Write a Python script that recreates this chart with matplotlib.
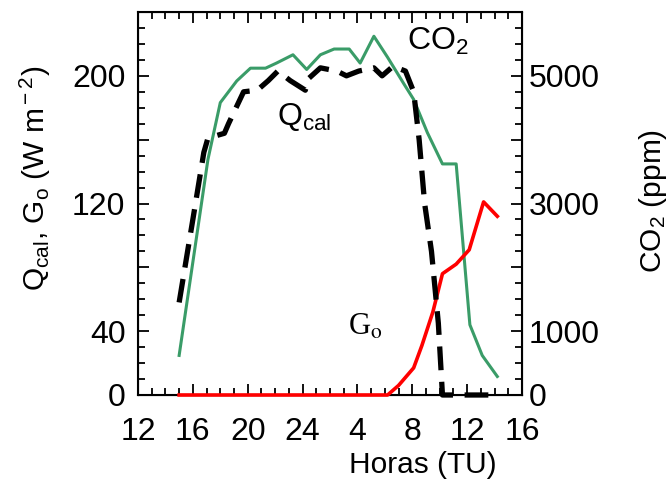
import matplotlib
matplotlib.use("Agg")
import matplotlib.pyplot as plt
from matplotlib.ticker import MultipleLocator, FuncFormatter

plt.rcParams['font.family'] = ['Liberation Sans', 'DejaVu Sans']
plt.rcParams['mathtext.fontset'] = 'custom'
plt.rcParams['mathtext.rm'] = 'Liberation Sans'
plt.rcParams['mathtext.it'] = 'Liberation Sans'

# Time axis: hours counted continuously from 12 (noon) of day 1
hours_co2 = [15.0, 17.1, 18.0, 19.2, 20.2, 21.3, 22.1, 23.3, 24.3, 25.3, 26.3, 27.4,
             28.2, 29.2, 30.2, 31.4, 32.1, 33.1, 34.2, 35.2, 36.2, 37.1, 38.2]
co2_ppm = [620, 3690, 4580, 4920, 5120, 5120, 5200, 5330, 5100, 5330, 5420, 5420,
           5200, 5620, 5290, 4870, 4630, 4110, 3620, 3620, 1100, 620, 290]

hours_q = [15.0, 16.0, 16.8, 17.1, 18.3, 18.6, 19.7, 20.7, 21.5, 22.2, 23.1, 24.2,
           24.4, 25.3, 26.5, 27.2, 28.1, 29.2, 29.8, 30.6, 31.5, 32.1, 32.5, 32.9,
           33.4, 33.9, 34.2, 35.0, 36.0, 37.0, 38.0]
q_cal = [58, 110, 152, 161, 164, 170, 190, 191, 197, 203, 197, 191,
         198, 205, 203, 200, 203, 205, 200, 206, 203, 190, 160, 120,
         90, 45, 0, 0, 0, 0, 0]

hours_g = [15.0, 20.0, 25.0, 30.2, 31.0, 32.1, 32.7, 33.5, 34.2, 35.2, 36.15, 37.2, 38.2]
g_o = [0, 0, 0, 0, 6, 17, 31, 52, 76, 82, 91, 121, 112]

xtick_vals = [12, 16, 20, 24, 28, 32, 36, 40]
xtick_labels = ['12', '16', '20', '24', '4', '8', '12', '16']
left_labeled = [0, 40, 120, 200]
right_labeled = [0, 1000, 3000, 5000]

W, H = 671, 482
fig = plt.figure(figsize=(W / 100, H / 100), dpi=100)
ax = fig.add_axes([138 / W, 1 - 395 / H, (522 - 138) / W, (395 - 12) / H])
ax2 = ax.twinx()

green = '#3a9c68'
ax2.plot(hours_co2, co2_ppm, color=green, lw=2.2, zorder=2)
ax.plot(hours_g, g_o, color='#ff0000', lw=2.6, zorder=3, clip_on=False)
ax.plot(hours_q, q_cal, color='black', lw=3.8, dashes=(4.5, 2.2), zorder=4, clip_on=False)
ax.set_zorder(ax2.get_zorder() + 1)
ax.patch.set_visible(False)

ax.set_xlim(12, 40)
ax.set_ylim(0, 240)
ax2.set_ylim(0, 6000)

tfs = 23   # tick labels
lfs = 21.5 # axis labels
ifs = 23   # in-plot labels
ax.set_xticks(xtick_vals)
ax.set_xticklabels(xtick_labels)
ax.xaxis.set_minor_locator(MultipleLocator(1))
ax.yaxis.set_major_locator(MultipleLocator(40))
ax.yaxis.set_minor_locator(MultipleLocator(10))
ax.yaxis.set_major_formatter(FuncFormatter(lambda v, p: f'{int(round(v))}' if int(round(v)) in left_labeled else ''))
ax2.yaxis.set_major_locator(MultipleLocator(1000))
ax2.yaxis.set_minor_locator(MultipleLocator(250))
ax2.yaxis.set_major_formatter(FuncFormatter(lambda v, p: f'{int(round(v))}' if int(round(v)) in right_labeled else ''))

ax.tick_params(axis='both', which='both', direction='in', top=True, right=False, labelsize=tfs, width=1.3)
ax.tick_params(axis='both', which='major', length=8)
ax.tick_params(axis='both', which='minor', length=5)
ax.tick_params(axis='x', which='major', pad=16)
ax.tick_params(axis='y', which='major', pad=9)
ax2.tick_params(axis='y', which='both', direction='in', labelsize=tfs, width=1.3)
ax2.tick_params(axis='y', which='major', length=8, pad=5)
ax2.tick_params(axis='y', which='minor', length=5)
for s in ax.spines.values():
    s.set_linewidth(1.5)

fig.text(423 / W, 1 - 465 / H, 'Horas (TU)', fontsize=lfs, ha='center', va='center')
fig.text(35 / W, 1 - 178 / H, r'Q$_{\rm cal}$, G$_{\rm o}$ (W m$^{\rm -2}$)', rotation=90,
         fontsize=lfs, ha='center', va='center')
fig.text(653 / W, 1 - 201 / H, r'CO$_2$ (ppm)', rotation=90, fontsize=lfs, ha='center', va='center')

ax.text(33.86, 221.8, r'CO$_2$', fontsize=ifs, ha='center', va='center')
ax.text(24.1, 174, r'Q$_{\rm cal}$', fontsize=ifs, ha='center', va='center')
ax.text(28.6, 42.7, r'G$_{\rm o}$', fontsize=22, ha='center', va='center', family='Liberation Serif',
        math_fontfamily='stix')

fig.savefig('out.png', dpi=100)
